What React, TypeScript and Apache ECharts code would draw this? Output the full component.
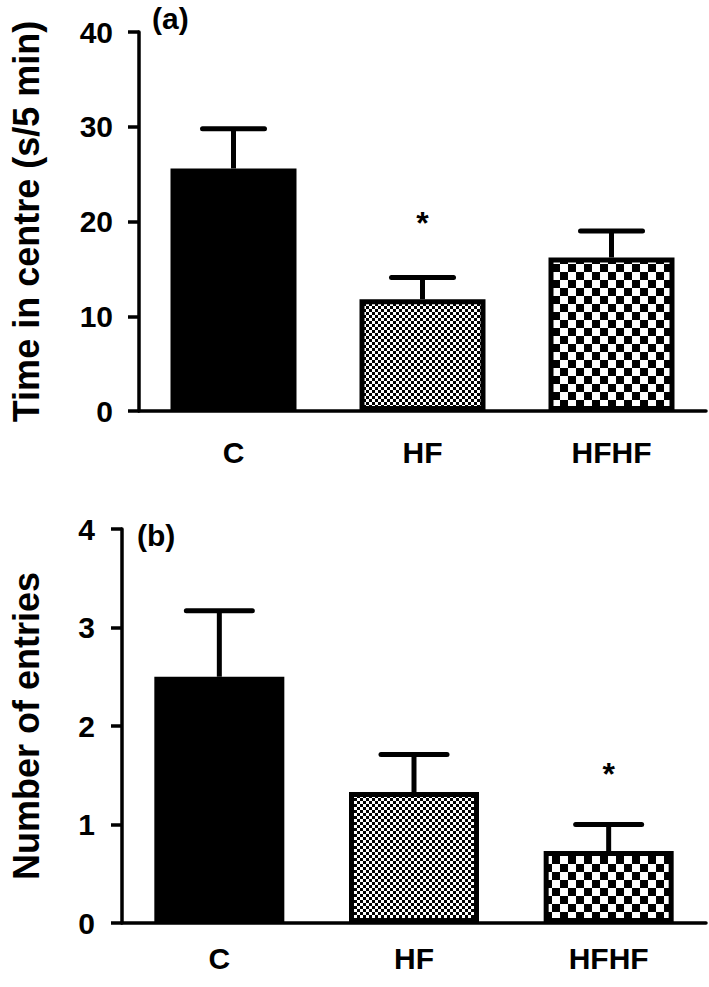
import React, { useEffect, useRef } from "react";
import * as echarts from "echarts";

const categories = ["C", "HF", "HFHF"];
const timeMeans = [25.6, 11.8, 16.2];
const timeErrors = [4.2, 2.3, 2.8];
const timeStars = ["", "*", ""];
const entriesMeans = [2.5, 1.33, 0.73];
const entriesErrors = [0.67, 0.38, 0.27];
const entriesStars = ["", "", "*"];
const timeTicks = { min: 0, max: 40, interval: 10 };
const entriesTicks = { min: 0, max: 4, interval: 1 };

const FONT = "'Liberation Sans', Arial, sans-serif";

function checker(cell: number) {
  const p = cell * 2;
  const svg = `<svg xmlns="http://www.w3.org/2000/svg" width="${p}" height="${p}" shape-rendering="crispEdges"><rect width="${p}" height="${p}" fill="#fff"/><rect x="0" y="0" width="${cell}" height="${cell}" fill="#000"/><rect x="${cell}" y="${cell}" width="${cell}" height="${cell}" fill="#000"/></svg>`;
  return {
    image: "data:image/svg+xml;utf8," + encodeURIComponent(svg),
    repeat: "repeat",
    imageWidth: p,
    imageHeight: p,
  } as any;
}

export default function App() {
  const ref = useRef<HTMLDivElement>(null);
  useEffect(() => {
    if (!ref.current) return;
    const chart = echarts.init(ref.current, null, { renderer: "svg" });
    const fills = ["#000", checker(3), checker(8)];

    const barData = (means: number[]) =>
      means.map((v, i) => ({
        value: v,
        itemStyle: { color: fills[i], borderColor: "#000", borderWidth: 5 },
      }));

    const errSeries = (means: number[], errs: number[], stars: string[], idx: number, half: number, starGap: number) => ({
      type: "custom",
      xAxisIndex: idx,
      yAxisIndex: idx,
      z: 10,
      data: means.map((m, i) => [i, m, errs[i]]),
      renderItem: (params: any, api: any) => {
        const x = api.value(0);
        const m = api.value(1);
        const e = api.value(2);
        const base = api.coord([x, m]);
        const top = api.coord([x, m + e]);
        const children: any[] = [
          { type: "line", shape: { x1: base[0], y1: base[1], x2: top[0], y2: top[1] }, style: { stroke: "#000", lineWidth: 5 } },
          { type: "line", shape: { x1: top[0] - half, y1: top[1], x2: top[0] + half, y2: top[1] }, style: { stroke: "#000", lineWidth: 5, lineCap: "round" } },
        ];
        const s = stars[params.dataIndex];
        if (s) {
          children.push({
            type: "text",
            style: { text: s, x: top[0], y: top[1] - starGap, align: "center", verticalAlign: "middle", font: `bold 32px ${FONT}`, fill: "#000" },
          });
        }
        return { type: "group", children };
      },
    });

    const axisLineStyle = { color: "#000", width: 3.5 };
    const labelStyle = { color: "#000", fontSize: 30, fontWeight: "bold", fontFamily: FONT };

    chart.setOption({
      animation: false,
      backgroundColor: "#fff",
      grid: [
        { left: 133, top: 32, right: 3, height: 379 },
        { left: 115, top: 529, right: 3, height: 394 },
      ],
      xAxis: [0, 1].map((g) => ({
        type: "category",
        gridIndex: g,
        data: categories,
        axisLine: { lineStyle: axisLineStyle },
        axisTick: { alignWithLabel: true, length: 12, lineStyle: { color: "#000", width: 3.5 } },
        axisLabel: { ...labelStyle, margin: g === 0 ? 26 : 20 },
      })),
      yAxis: [
        {
          type: "value",
          gridIndex: 0,
          ...timeTicks,
          name: "Time in centre (s/5 min)",
          nameLocation: "middle",
          nameGap: 95,
          nameTextStyle: { color: "#000", fontSize: 36, fontWeight: "bold", fontFamily: FONT },
          splitLine: { show: false },
          axisLine: { show: true, lineStyle: axisLineStyle },
          axisTick: { show: true, length: 11, lineStyle: { color: "#000", width: 3.5 } },
          axisLabel: { ...labelStyle, margin: 26 },
        },
        {
          type: "value",
          gridIndex: 1,
          ...entriesTicks,
          name: "Number of entries",
          nameLocation: "middle",
          nameGap: 78,
          nameTextStyle: { color: "#000", fontSize: 36, fontWeight: "bold", fontFamily: FONT },
          splitLine: { show: false },
          axisLine: { show: true, lineStyle: axisLineStyle },
          axisTick: { show: true, length: 11, lineStyle: { color: "#000", width: 3.5 } },
          axisLabel: { ...labelStyle, margin: 27 },
        },
      ],
      graphic: [
        { type: "text", left: 152, top: 3, style: { text: "(a)", font: `bold 30px ${FONT}`, fill: "#000" } },
        { type: "text", left: 137, top: 520, style: { text: "(b)", font: `bold 30px ${FONT}`, fill: "#000" } },
      ],
      series: [
        { type: "bar", xAxisIndex: 0, yAxisIndex: 0, barWidth: 126, data: barData(timeMeans) },
        { type: "bar", xAxisIndex: 1, yAxisIndex: 1, barWidth: 130, data: barData(entriesMeans) },
        errSeries(timeMeans, timeErrors, timeStars, 0, 31, 54),
        errSeries(entriesMeans, entriesErrors, entriesStars, 1, 33, 51),
      ],
    });
    return () => chart.dispose();
  }, []);
  return <div ref={ref} style={{ position: "absolute", left: 0, top: 0, width: 709, height: 987 }} />;
}
